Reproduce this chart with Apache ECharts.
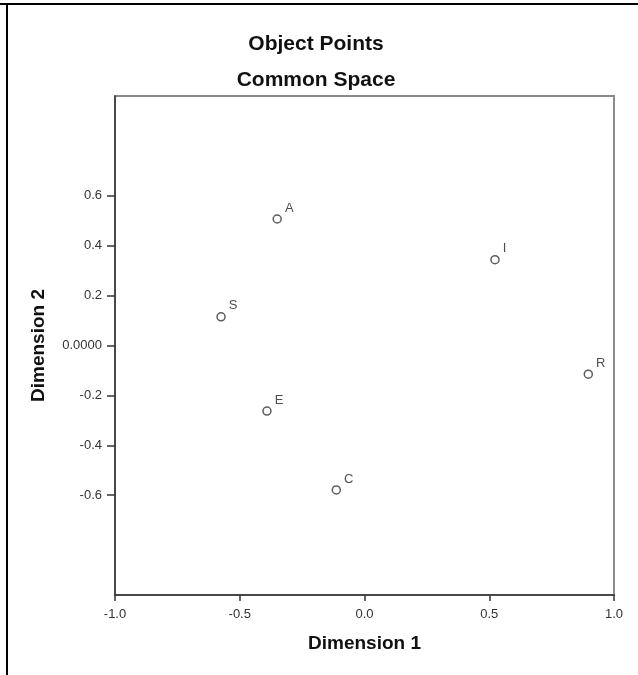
<!DOCTYPE html>
<html><head><meta charset="utf-8">
<script src="https://cdn.jsdelivr.net/npm/echarts@6/dist/echarts.min.js"></script>
<style>html,body{margin:0;padding:0;background:#fff}#c{width:638px;height:675px}</style>
</head><body><div id="c"></div>
<script>
const objectNames = ['A','I','S','R','E','C'];
const dim1Values = [-0.35, 0.523, -0.575, 0.897, -0.391, -0.113];
const dim2Values = [0.507, 0.344, 0.115, -0.115, -0.263, -0.579];
const xTickValues = [-1.0, -0.5, 0.0, 0.5, 1.0];
const yTickValues = [-0.6, -0.4, -0.2, 0.0, 0.2, 0.4, 0.6];

const FONT = '"Liberation Sans", Arial, sans-serif';
const chart = echarts.init(document.getElementById('c'), null, {renderer:'canvas'});
const pts = objectNames.map((n,i)=>({name:n, value:[dim1Values[i], dim2Values[i]]}));
chart.setOption({
  animation:false,
  backgroundColor:'#fff',
  title:[
    {text:'Object Points', left:311, top:29, textAlign:'center',
     textStyle:{fontFamily:FONT, fontWeight:'bold', fontSize:21, color:'#111'}},
    {text:'Common Space', left:311, top:65, textAlign:'center',
     textStyle:{fontFamily:FONT, fontWeight:'bold', fontSize:21, color:'#111'}}
  ],
  grid:{left:115, right:24, top:96, bottom:80, show:true, borderColor:'#8a8a8a', borderWidth:2, backgroundColor:'transparent'},
  xAxis:{type:'value', min:-1, max:1, interval:0.5,
    name:'Dimension 1', nameLocation:'middle', nameGap:39,
    nameTextStyle:{fontFamily:FONT, fontWeight:'bold', fontSize:19, color:'#111'},
    axisLine:{show:true, onZero:false, lineStyle:{color:'#333', width:1.5}},
    axisTick:{show:true, inside:false, length:6, lineStyle:{color:'#333', width:1.5}, customValues:xTickValues},
    axisLabel:{fontFamily:FONT, fontSize:13, color:'#333', margin:13, customValues:xTickValues,
      formatter:v=>v.toFixed(1)},
    splitLine:{show:false}},
  yAxis:{type:'value', min:-1, max:1, interval:0.2,
    name:'Dimension 2', nameLocation:'middle', nameGap:67, nameRotate:90,
    nameTextStyle:{fontFamily:FONT, fontWeight:'bold', fontSize:19, color:'#111'},
    axisLine:{show:true, onZero:false, lineStyle:{color:'#333', width:1.5}},
    axisTick:{show:true, inside:false, length:8, lineStyle:{color:'#333', width:1.5}, customValues:yTickValues},
    axisLabel:{fontFamily:FONT, fontSize:13, color:'#333', margin:13, customValues:yTickValues,
      formatter:v=>Math.abs(v)<1e-9?'0.0000':v.toFixed(1)},
    splitLine:{show:false}},
  graphic:[
    {type:'line', shape:{x1:0,y1:4,x2:638,y2:4}, style:{stroke:'#000', lineWidth:2}},
    {type:'line', shape:{x1:7,y1:4,x2:7,y2:675}, style:{stroke:'#000', lineWidth:2}}
  ],
  series:[{type:'scatter', data:pts, symbol:'circle', symbolSize:8,
    itemStyle:{color:'#fff', borderColor:'#333', borderWidth:1.5},
    label:{show:true, position:'right', formatter:'{b}', distance:3, offset:[0,-11],
      fontFamily:FONT, fontSize:13, color:'#222'}}]
});
</script></body></html>
